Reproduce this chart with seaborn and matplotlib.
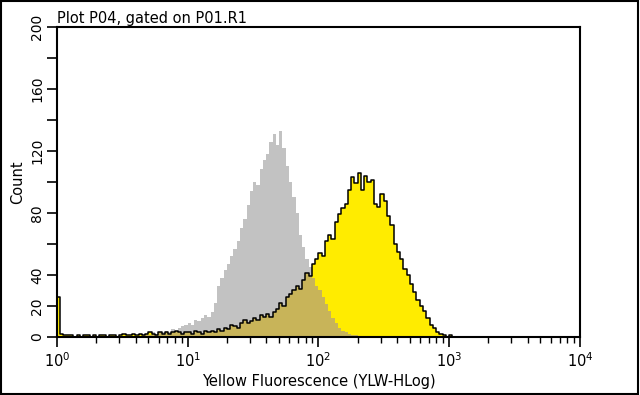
import numpy as np
import pandas as pd
import seaborn as sns
import matplotlib.pyplot as plt
from matplotlib.patches import Rectangle

# histogram channels: 40 per decade, log10 edges from 0 to 3.2
bin_w = 0.025
n_bins = 128

# yellow sample (stained)
yellow_counts = [
    26, 2, 1, 1,
    1, 0, 1, 0, 1, 1, 0, 1, 0, 1, 1, 0, 1, 1, 0, 1, 2, 1, 1, 2,
    1, 2, 1, 2, 3, 2, 1, 3, 2, 3, 2, 3, 4, 3, 2, 3,
    3, 2, 4, 3, 2, 4, 3, 4, 3, 5, 4, 6,
    5, 8, 7, 6, 9, 11, 9, 10, 12, 11, 14, 13,
    15, 13, 16, 18, 22, 20, 26, 28,
    30, 33, 31, 37, 41, 39, 47, 50,
    54, 52, 62, 66, 63, 74, 79, 83,
    86, 95, 103, 99, 106, 95, 104, 100,
    101, 86, 84, 92, 88, 78, 72, 60,
    55, 50, 44, 40, 34, 29, 24, 20,
    17, 12, 8, 6, 3, 2, 1, 0,
    1, 0, 0, 0, 0, 0, 0, 0,
]

# gray sample (control)
gray_counts = [
    0, 0, 0, 0,
    0, 0, 0, 0, 0, 0, 0, 0, 0, 0, 0, 0, 0, 0, 0, 0, 0, 0, 0, 0,
    0, 0, 1, 2, 1, 3, 2, 3,
    3, 4, 3, 5, 4, 6, 7, 8,
    9, 8, 11, 10, 12, 14, 13, 16,
    22, 33, 38, 43, 47, 52, 57, 62,
    70, 76, 85, 94, 100, 98, 108, 114,
    118, 126, 131, 124, 133, 122, 110, 100,
    90, 80, 66, 58, 50, 45, 38, 33,
    30, 26, 21, 17, 12, 9, 6, 4,
    3, 2, 1, 1, 0, 0, 0, 0,
    0, 0, 0, 0, 0, 0, 0, 0,
    0, 0, 0, 0, 0, 0, 0, 0,
    0, 0, 0, 0, 0, 0, 0, 0,
    0, 0, 0, 0, 0, 0, 0, 0,
]

y_ticks = [0, 20, 40, 60, 80, 100, 120, 140, 160, 180, 200]
y_labels = ['0', '20', '40', '', '80', '', '120', '', '160', '', '200']

log_edges = np.arange(n_bins + 1) * bin_w
centers = 10 ** (log_edges[:-1] + bin_w / 2)
df = pd.DataFrame({
    'fl': centers,
    'yellow': yellow_counts,
    'gray': gray_counts,
})
df['overlap'] = np.minimum(df['yellow'], df['gray'])

sns.set_style('white')
plt.rcParams['font.family'] = ['DejaVu Sans']
plt.rcParams['text.color'] = 'black'
plt.rcParams['axes.labelcolor'] = 'black'
plt.rcParams['xtick.color'] = 'black'
plt.rcParams['ytick.color'] = 'black'

fig = plt.figure(figsize=(6.4, 3.95), dpi=100)
ax = fig.add_axes([0.089, 0.147, 0.817, 0.785])

# list (not array) so seaborn's bins == "auto" check works with weights
common = dict(x='fl', bins=log_edges.tolist(), log_scale=True, element='step', ax=ax)
sns.histplot(data=df, weights='gray', fill=True, color='#c2c2c2', alpha=1, linewidth=0, **common)
sns.histplot(data=df, weights='yellow', fill=True, color='#ffec00', alpha=1, linewidth=0, **common)
sns.histplot(data=df, weights='overlap', fill=True, color='#c8b459', alpha=1, linewidth=0, **common)
sns.histplot(data=df, weights='yellow', fill=False, color='black', linewidth=1.1, **common)

ax.set_xlim(1, 1e4)
ax.set_ylim(0, 200)
ax.set_yticks(y_ticks)
ax.set_yticklabels(y_labels, rotation=90, va='center', fontsize=10)
ax.tick_params(axis='x', which='major', direction='out', length=7, width=1.2, labelsize=10.5, bottom=True)
ax.tick_params(axis='x', which='minor', direction='out', length=4, width=1, bottom=True)
ax.tick_params(axis='y', direction='out', length=7, width=1.2, left=True, pad=2)
for sp in ax.spines.values():
    sp.set_color('black')
    sp.set_linewidth(1.5)

ax.set_xlabel('Yellow Fluorescence (YLW-HLog)', fontsize=10.5, labelpad=3)
ax.set_ylabel('Count', fontsize=10.5, labelpad=4)
ax.set_title('Plot P04, gated on P01.R1', fontsize=10.5, loc='left', pad=3)

fig.add_artist(Rectangle((0.002, 0.003), 0.995, 0.994, transform=fig.transFigure,
                         fill=False, edgecolor='black', linewidth=1.5))

fig.savefig('out.png', dpi=100)
